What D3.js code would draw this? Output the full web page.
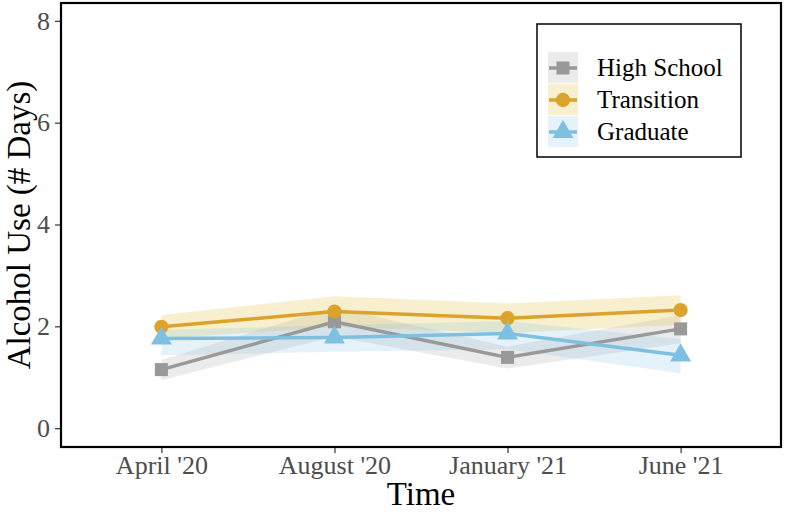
<!DOCTYPE html>
<html>
<head>
<meta charset="utf-8">
<script src="https://cdn.jsdelivr.net/npm/d3@7"></script>
<style>
  body { margin: 0; background: #fff; }
  svg { display: block; font-family: "Liberation Serif", "Times New Roman", serif; }
</style>
</head>
<body>
<svg width="786" height="512"></svg>
<script>
// values
var times = ["April '20", "August '20", "January '21", "June '21"];
var groups = ["High School", "Transition", "Graduate"];
var highSchool = [1.15, 2.09, 1.39, 1.95];
var highSchoolLo = [0.94, 1.80, 1.17, 1.67];
var highSchoolHi = [1.34, 2.38, 1.60, 2.22];
var transition = [1.99, 2.29, 2.16, 2.32];
var transitionLo = [1.76, 1.99, 1.87, 2.03];
var transitionHi = [2.22, 2.59, 2.45, 2.61];
var graduate = [1.76, 1.78, 1.86, 1.43];
var graduateLo = [1.43, 1.50, 1.55, 1.08];
var graduateHi = [1.93, 2.02, 2.10, 1.75];
var yTicks = [0, 2, 4, 6, 8];

var colors = ["#999999", "#DBA22C", "#7EC0E0"];
var ribbonColors = ["#999999", "#E2C44E", "#7EC0E0"];
var ribbonAlpha = [0.2, 0.28, 0.2];
var shapes = [d3.symbolSquare, d3.symbolCircle, d3.symbolTriangle];
var shapeSize = [170, 160, 190];

var series = [
    {name: groups[0], mean: highSchool, lo: highSchoolLo, hi: highSchoolHi},
    {name: groups[1], mean: transition, lo: transitionLo, hi: transitionHi},
    {name: groups[2], mean: graduate, lo: graduateLo, hi: graduateHi}
];

var svg = d3.select("svg");
var panel = {left: 61, top: 3, right: 781, bottom: 447};

var x = d3.scalePoint()
    .domain(times)
    .range([panel.left, panel.right])
    .padding(0.58);

var y = d3.scaleLinear()
    .domain([-0.37, 8.35])
    .range([panel.bottom, panel.top]);

// ribbons
var area = d3.area()
    .x(function (d) { return x(d.t); })
    .y0(function (d) { return y(d.lo); })
    .y1(function (d) { return y(d.hi); });

var line = d3.line()
    .x(function (d) { return x(d.t); })
    .y(function (d) { return y(d.v); });

series.forEach(function (s, i) {
    var pts = times.map(function (t, j) {
        return {t: t, v: s.mean[j], lo: s.lo[j], hi: s.hi[j]};
    });
    s.pts = pts;
    svg.append("path")
        .datum(pts)
        .attr("d", area)
        .attr("fill", ribbonColors[i])
        .attr("fill-opacity", ribbonAlpha[i]);
});

series.forEach(function (s, i) {
    svg.append("path")
        .datum(s.pts)
        .attr("d", line)
        .attr("fill", "none")
        .attr("stroke", colors[i])
        .attr("stroke-width", 3.5);
    svg.append("g").selectAll("path")
        .data(s.pts)
        .enter().append("path")
        .attr("transform", function (d) {
            return "translate(" + x(d.t) + "," + y(d.v) + ")";
        })
        .attr("d", d3.symbol().type(shapes[i]).size(shapeSize[i]))
        .attr("fill", colors[i]);
});

// panel border
svg.append("rect")
    .attr("x", panel.left)
    .attr("y", panel.top)
    .attr("width", panel.right - panel.left)
    .attr("height", panel.bottom - panel.top)
    .attr("fill", "none")
    .attr("stroke", "#000")
    .attr("stroke-width", 2.2);

// axes
var xAxis = svg.append("g")
    .attr("transform", "translate(0," + (panel.bottom + 1) + ")")
    .call(d3.axisBottom(x).tickSize(5).tickPadding(3));
var yAxis = svg.append("g")
    .attr("transform", "translate(" + (panel.left - 1) + ",0)")
    .call(d3.axisLeft(y).tickValues(yTicks).tickSize(5).tickPadding(5));

[xAxis, yAxis].forEach(function (a) {
    a.select(".domain").remove();
    a.selectAll(".tick line").attr("stroke", "#333").attr("stroke-width", 1.2);
    a.selectAll(".tick text")
        .attr("fill", "#4D4D4D")
        .style("font-family", "Liberation Serif")
        .style("font-size", "26px");
});

svg.append("text")
    .attr("x", (panel.left + panel.right) / 2)
    .attr("y", 505)
    .attr("text-anchor", "middle")
    .style("font-size", "33px")
    .text("Time");

svg.append("text")
    .attr("transform", "translate(30," + (panel.top + panel.bottom) / 2 + ") rotate(-90)")
    .attr("text-anchor", "middle")
    .style("font-size", "33px")
    .text("Alcohol Use (# Days)");

// legend
var legend = svg.append("g").attr("transform", "translate(537,24)");
legend.append("rect")
    .attr("width", 204)
    .attr("height", 133)
    .attr("fill", "#fff")
    .attr("stroke", "#000")
    .attr("stroke-width", 1.5);

var keys = legend.selectAll(".key")
    .data(series)
    .enter().append("g")
    .attr("class", "key")
    .attr("transform", function (d, i) {
        return "translate(11," + (28 + i * 32) + ")";
    });

keys.append("rect")
    .attr("width", 30)
    .attr("height", 31)
    .attr("fill", function (d, i) { return ribbonColors[i]; })
    .attr("fill-opacity", function (d, i) { return ribbonAlpha[i]; });
keys.append("line")
    .attr("x1", 1).attr("x2", 29)
    .attr("y1", 16).attr("y2", 16)
    .attr("stroke", function (d, i) { return colors[i]; })
    .attr("stroke-width", 3.5);
keys.append("path")
    .attr("transform", "translate(15,16)")
    .attr("d", function (d, i) {
        return d3.symbol().type(shapes[i]).size(shapeSize[i])();
    })
    .attr("fill", function (d, i) { return colors[i]; });
keys.append("text")
    .attr("x", 49)
    .attr("y", 24)
    .style("font-size", "25px")
    .text(function (d) { return d.name; });
</script>
</body>
</html>
